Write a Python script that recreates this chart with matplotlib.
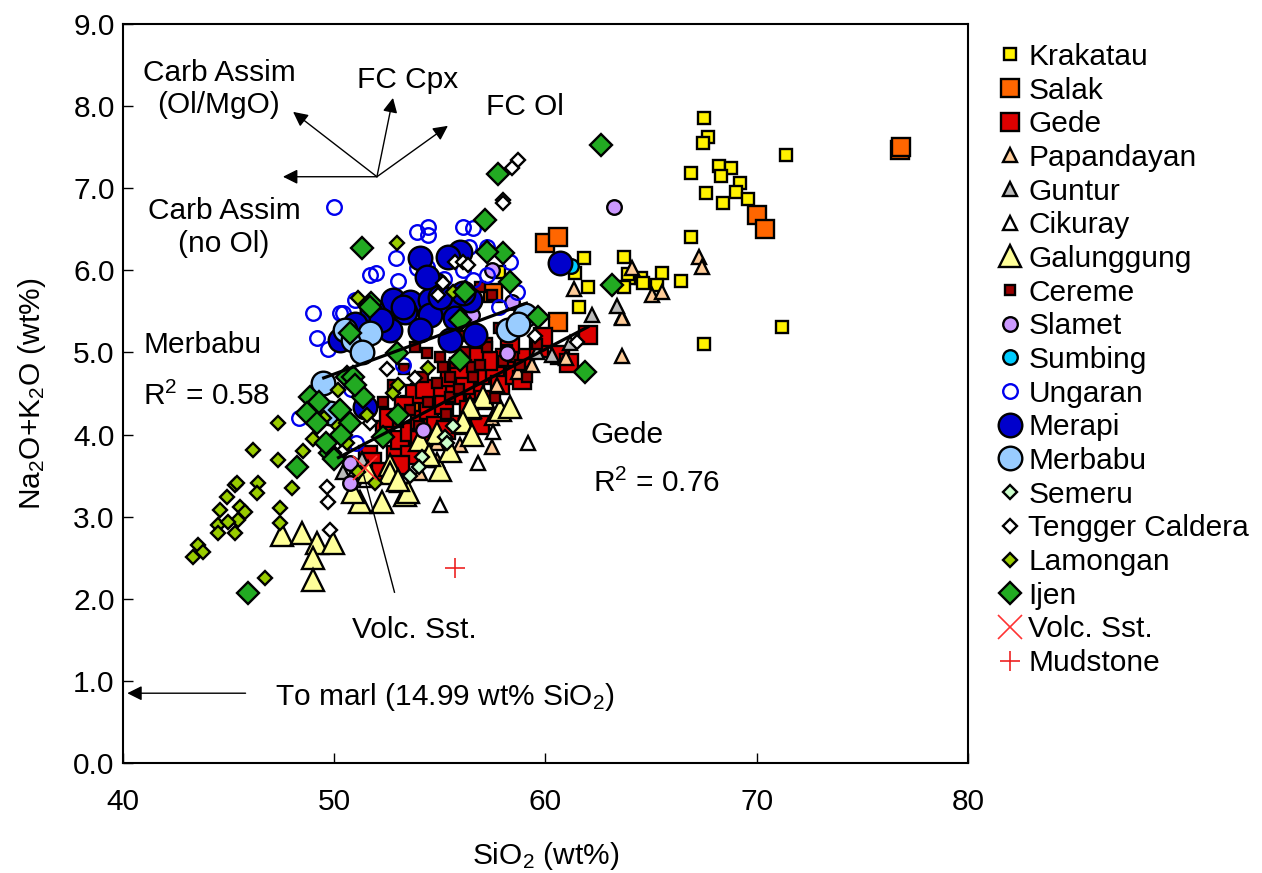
import matplotlib.pyplot as plt

plt.rcParams['font.family'] = ['Liberation Sans', 'DejaVu Sans']
plt.rcParams['mathtext.fontset'] = 'custom'
plt.rcParams['mathtext.rm'] = 'Liberation Sans'
plt.rcParams['mathtext.it'] = 'Liberation Sans:italic'
plt.rcParams['font.size'] = 21.5

# SiO2 / total alkali data per volcano (wt%)
krakatau_x = [67.5, 67.7, 67.45, 71.4, 68.2, 68.8, 68.3, 66.9, 69.2, 69.0, 67.6, 69.6, 68.4, 66.9, 63.7,
              64.05, 64.5, 65.5, 63.7, 65.3, 66.4, 71.2, 67.5, 61.8, 61.4, 62.0, 61.6, 57.8, 63.9, 64.6]
krakatau_y = [7.86, 7.62, 7.55, 7.41, 7.27, 7.25, 7.15, 7.19, 7.06, 6.95, 6.94, 6.87, 6.82, 6.41, 6.16,
              5.91, 5.91, 5.97, 5.80, 5.82, 5.87, 5.31, 5.10, 6.15, 5.97, 5.80, 5.55, 5.98, 5.95, 5.85]

salak_x = [76.8, 76.85, 70.0, 70.4, 60.0, 60.6, 60.6, 57.5, 54.06, 53.6, 55.5]
salak_y = [7.47, 7.50, 6.67, 6.50, 6.33, 6.40, 5.37, 5.72, 4.51, 4.36, 4.6]

gede_x = [51.6, 51.8, 52.4, 52.9, 53.1, 53.6, 53.6, 54.06, 54.06, 54.5, 54.5, 55.0, 55.2, 55.7, 55.95, 56.4,
          56.66, 56.9, 56.9, 57.1, 57.6, 57.85, 58.1, 58.55, 58.9, 59.03, 59.7, 59.9, 60.7, 61.1, 62.0, 53.1,
          52.2, 55.5, 54.8, 56.2, 57.3, 58.3, 53.8, 55.3, 52.6, 53.3, 54.3, 55.9, 56.6]
gede_y = [3.75, 3.67, 4.06, 3.75, 3.93, 4.03, 3.75, 4.18, 3.93, 4.30, 3.93, 4.54, 4.36, 4.48, 4.12, 4.30,
          4.54, 4.73, 4.12, 4.42, 4.79, 4.60, 4.93, 4.73, 4.66, 4.93, 5.05, 5.19, 4.97, 4.87, 5.21, 3.63,
          3.55, 4.7, 4.1, 4.6, 4.9, 5.1, 4.5, 4.05, 4.2, 4.35, 4.55, 4.8, 4.95]

papandayan_x = [67.27, 67.41, 64.1, 65.04, 65.5, 63.62, 63.62, 61.35, 63.6, 60.97, 59.36, 58.7, 57.7, 56.57,
                57.47, 57.85, 57.47, 55.95, 54.86, 54.06, 54.39, 54.86, 54.06, 52.97]
papandayan_y = [6.16, 6.04, 6.03, 5.70, 5.74, 5.43, 4.96, 5.77, 5.42, 4.93, 4.85, 4.76, 4.60, 4.28,
                4.20, 4.32, 3.85, 3.87, 3.90, 3.90, 3.69, 3.69, 3.53, 3.39]

guntur_x = [63.38, 62.2, 61.16, 60.31, 59.6, 51.0, 51.3, 50.4]
guntur_y = [5.57, 5.46, 5.12, 4.97, 5.01, 3.57, 3.7, 3.55]

cikuray_x = [59.17, 57.5, 55.0, 51.5, 56.8]
cikuray_y = [3.90, 4.03, 3.14, 3.45, 3.65]

galunggung_x = [47.53, 48.47, 49.18, 49.94, 48.99, 48.99, 51.22, 52.26, 53.35, 52.64, 57.04, 56.43, 57.85,
                58.32, 56.1, 54.86, 54.06, 52.64, 53.5, 55.0, 54.5, 55.5, 53.0, 56.5, 51.6, 50.9]
galunggung_y = [2.78, 2.80, 2.68, 2.68, 2.50, 2.23, 3.18, 3.18, 3.26, 3.63, 4.46, 4.34, 4.30,
                4.34, 4.15, 4.02, 3.93, 3.53, 3.30, 3.57, 3.75, 3.80, 3.45, 4.0, 3.55, 3.3]

cereme_x = [53.82, 54.39, 55.0, 55.15, 55.48, 55.72, 56.52, 56.57, 56.9, 57.23, 54.2, 54.86, 55.48, 54.44,
            58.18, 58.46, 59.12, 57.47, 57.23, 56.9, 53.3, 52.8, 52.3, 53.6, 56.0, 57.8, 58.8, 59.6, 55.9,
            54.0, 53.0, 57.6, 56.2, 55.3, 58.0]
cereme_y = [5.07, 4.99, 4.95, 4.82, 4.70, 4.87, 4.82, 4.70, 4.85, 5.12, 4.70, 4.63, 4.46, 4.40,
            5.03, 4.95, 4.70, 5.70, 5.07, 5.80, 4.8, 4.6, 4.4, 4.3, 5.2, 5.3, 4.85, 5.1, 4.55,
            4.1, 4.15, 4.45, 5.0, 4.25, 4.9]

slamet_x = [63.24, 57.47, 58.41, 58.18, 50.75, 50.75, 56.5, 54.2]
slamet_y = [6.77, 6.0, 5.61, 4.99, 3.41, 3.65, 5.45, 4.05]

sumbing_x = [61.2]
sumbing_y = [6.05]

ungaran_x = [49.99, 53.92, 54.44, 54.44, 56.1, 56.57, 56.38, 52.92, 53.92, 54.39, 51.69, 51.98, 53.02, 50.98,
             48.99, 50.27, 49.18, 49.7, 48.33, 57.23, 58.32, 56.57, 57.23, 58.65, 56.1, 50.4, 53.25, 51.03,
             55.2, 57.8, 52.3, 50.8, 55.8]
ungaran_y = [6.77, 6.47, 6.53, 6.43, 6.53, 6.52, 6.29, 6.15, 6.03, 6.04, 5.94, 5.97, 5.87, 5.64,
             5.48, 5.48, 5.18, 5.04, 4.20, 6.29, 6.10, 5.88, 5.94, 5.74, 6.0, 5.48, 4.85, 3.90,
             5.9, 5.55, 5.3, 4.55, 5.75]

merapi_x = [55.95, 60.69, 54.06, 54.8, 52.78, 53.59, 54.53, 55.48, 56.43, 51.79, 53.35, 54.53, 55.72, 52.64,
            54.06, 55.48, 56.66, 50.27, 50.98, 51.46, 54.39, 55.38, 56.1, 55.0, 53.25, 51.0, 52.2]
merapi_y = [6.22, 6.09, 6.15, 5.82, 5.64, 5.62, 5.64, 5.58, 5.64, 5.52, 5.49, 5.46, 5.42, 5.27,
            5.27, 5.15, 5.21, 5.15, 5.15, 4.34, 5.92, 6.16, 5.72, 5.68, 5.55, 5.35, 5.4]

merbabu_x = [49.47, 49.8, 50.5, 50.89, 51.69, 59.03, 58.22, 58.7, 51.3]
merbabu_y = [4.63, 4.26, 5.27, 5.15, 5.24, 5.46, 5.27, 5.35, 5.0]

semeru_x = [55.24, 55.34, 54.15, 54.0, 53.6, 55.6]
semeru_y = [3.97, 3.90, 3.73, 3.6, 3.5, 4.1]

tengger_x = [58.7, 58.41, 57.99, 55.72, 56.1, 56.33, 55.15, 53.82, 51.69, 49.66, 49.7, 49.8, 61.5, 57.99,
             52.5, 50.4, 54.9, 59.5]
tengger_y = [7.34, 7.25, 6.86, 6.10, 6.10, 6.06, 5.85, 4.69, 4.14, 3.36, 3.18, 2.84, 5.13, 6.82,
             4.8, 3.8, 5.7, 5.2]

lamongan_x = [45.3, 46.39, 46.34, 48.0, 44.92, 44.59, 45.54, 45.78, 45.44, 44.5, 44.97, 45.3, 44.5, 47.43,
              47.43, 43.55, 43.79, 43.31, 46.72, 47.34, 46.15, 47.34, 45.4, 50.18, 52.97, 51.12, 55.62,
              54.44, 52.78, 51.55, 50.6, 51.93, 51.12, 48.5, 49.0, 49.5, 48.2, 50.2, 53.0]
lamongan_y = [3.39, 3.41, 3.29, 3.35, 3.24, 3.08, 3.12, 3.06, 2.96, 2.90, 2.94, 2.80, 2.80, 3.11,
              2.92, 2.66, 2.57, 2.51, 2.25, 4.14, 3.81, 3.69, 3.41, 4.54, 6.33, 5.66, 5.74,
              4.81, 4.51, 4.24, 3.90, 3.41, 3.55, 3.8, 3.95, 4.2, 3.6, 4.1, 4.6]

ijen_x = [62.63, 63.15, 61.87, 59.65, 57.75, 57.14, 57.99, 57.23, 58.32, 56.19, 51.31, 51.74, 51.69, 55.95,
          55.95, 50.75, 48.85, 48.71, 49.18, 49.8, 50.27, 50.75, 50.6, 48.24, 45.92, 50.89, 51.36, 53.02,
          52.31, 52.97, 49.3, 50.3, 51.0, 49.6, 50.0]
ijen_y = [7.53, 5.82, 4.76, 5.43, 7.17, 6.61, 6.21, 6.22, 5.86, 5.74, 6.27, 5.60, 5.55, 5.40,
          4.91, 5.24, 4.46, 4.26, 4.14, 3.78, 4.30, 4.14, 4.70, 3.61, 2.07, 4.70, 4.46, 4.24,
          3.97, 4.99, 4.4, 4.0, 4.6, 3.9, 3.7]

volc_sst_x = [51.46]
volc_sst_y = [3.59]
mudstone_x = [55.7]
mudstone_y = [2.37]

# regression lines (end points)
merbabu_fit_x = [49.5, 59.1]
merbabu_fit_y = [4.69, 5.60]
gede_fit_x = [50.2, 62.0]
gede_fit_y = [3.72, 5.31]

series = [
    ("Krakatau", krakatau_x, krakatau_y, "s", 8.5, "#FFF200", "k"),
    ("Salak", salak_x, salak_y, "s", 13.5, "#FF6600", "k"),
    ("Gede", gede_x, gede_y, "s", 13.5, "#DD0000", "k"),
    ("Papandayan", papandayan_x, papandayan_y, "^", 10.5, "#FFCC99", "k"),
    ("Guntur", guntur_x, guntur_y, "^", 10.5, "#BBBBBB", "k"),
    ("Cikuray", cikuray_x, cikuray_y, "^", 10.5, "white", "k"),
    ("Galunggung", galunggung_x, galunggung_y, "^", 16.5, "#FFFF99", "k"),
    ("Cereme", cereme_x, cereme_y, "s", 7.5, "#990000", "k"),
    ("Slamet", slamet_x, slamet_y, "o", 10.5, "#CC99FF", "k"),
    ("Sumbing", sumbing_x, sumbing_y, "o", 10.5, "#00CCFF", "k"),
    ("Ungaran", ungaran_x, ungaran_y, "o", 10.5, "none", "#0000EE"),
    ("Merapi", merapi_x, merapi_y, "o", 17, "#0000CC", "k"),
    ("Merbabu", merbabu_x, merbabu_y, "o", 17, "#99CCFF", "k"),
    ("Semeru", semeru_x, semeru_y, "D", 7, "#CCFFCC", "k"),
    ("Tengger Caldera", tengger_x, tengger_y, "D", 7, "white", "k"),
    ("Lamongan", lamongan_x, lamongan_y, "D", 7, "#99CC00", "k"),
    ("Ijen", ijen_x, ijen_y, "D", 11.5, "#22AA22", "k"),
]

fig = plt.figure(figsize=(12.62, 8.73), dpi=100)
ax = fig.add_axes([0.0975, 0.126, 0.6695, 0.8465])

for name, xs, ys, mk, ms, fc, ec in series:
    ax.plot(xs, ys, linestyle="none", marker=mk, markersize=ms, markerfacecolor=fc,
            markeredgecolor=ec, markeredgewidth=1.7, label=name)

ax.plot(volc_sst_x, volc_sst_y, linestyle="none", marker="x", markersize=17, color="#FF3333",
        markeredgewidth=1.2, label="Volc. Sst.")
ax.plot(mudstone_x, mudstone_y, linestyle="none", marker="+", markersize=15, color="#EE2222",
        markeredgewidth=1.2, label="Mudstone")

ax.plot(merbabu_fit_x, merbabu_fit_y, color="k", lw=2.3)
ax.plot(gede_fit_x, gede_fit_y, color="k", lw=2.3)

ax.set_xlim(40, 80)
ax.set_ylim(0, 9)
ax.set_xticks([40, 50, 60, 70, 80])
ax.set_yticks([i * 1.0 for i in range(10)])
ax.set_yticklabels([f"{i:.1f}" for i in range(10)])
ax.tick_params(axis="both", direction="in", length=7, width=1)
ax.tick_params(axis="x", pad=18)
ax.tick_params(axis="y", pad=6)
for sp in ax.spines.values():
    sp.set_linewidth(1.5)

ax.set_xlabel("SiO$_2$ (wt%)", labelpad=17)
ax.set_ylabel("Na$_2$O+K$_2$O (wt%)", labelpad=18)

# fractionation / assimilation vectors
arrow = dict(arrowstyle="-|>", color="k", lw=1, mutation_scale=22, shrinkA=0, shrinkB=0)
origin = (52.02, 7.14)
for tip in [(48.05, 7.93), (52.78, 8.1), (55.38, 7.76), (47.57, 7.14)]:
    ax.annotate("", xy=tip, xytext=origin, arrowprops=arrow)
ax.annotate("", xy=(40.2, 0.85), xytext=(45.8, 0.85), arrowprops=arrow)

ax.text(44.54, 8.21, "Carb Assim\n(Ol/MgO)", ha="center", va="center")
ax.text(53.49, 8.32, "FC Cpx", ha="center", va="center")
ax.text(59.03, 7.99, "FC Ol", ha="center", va="center")
ax.text(44.78, 6.52, "Carb Assim\n(no Ol)", ha="center", va="center")
ax.text(40.95, 5.09, "Merbabu", ha="left", va="center")
ax.text(40.95, 4.47, "R$^2$ = 0.58", ha="left", va="center")
ax.text(62.15, 4.0, "Gede", ha="left", va="center")
ax.text(62.25, 3.40, "R$^2$ = 0.76", ha="left", va="center")
ax.text(53.78, 1.62, "Volc. Sst.", ha="center", va="center")
ax.plot([51.4, 52.85], [3.5, 2.08], color="k", lw=1)
ax.text(47.2, 0.80, "To marl (14.99 wt% SiO$_2$)", ha="left", va="center")

fig.legend(loc="upper left", bbox_to_anchor=(0.777, 0.968), frameon=False, borderpad=0,
           handlelength=1.0, handletextpad=0.1, labelspacing=0.19, numpoints=1)

fig.savefig("out.png", dpi=100)
